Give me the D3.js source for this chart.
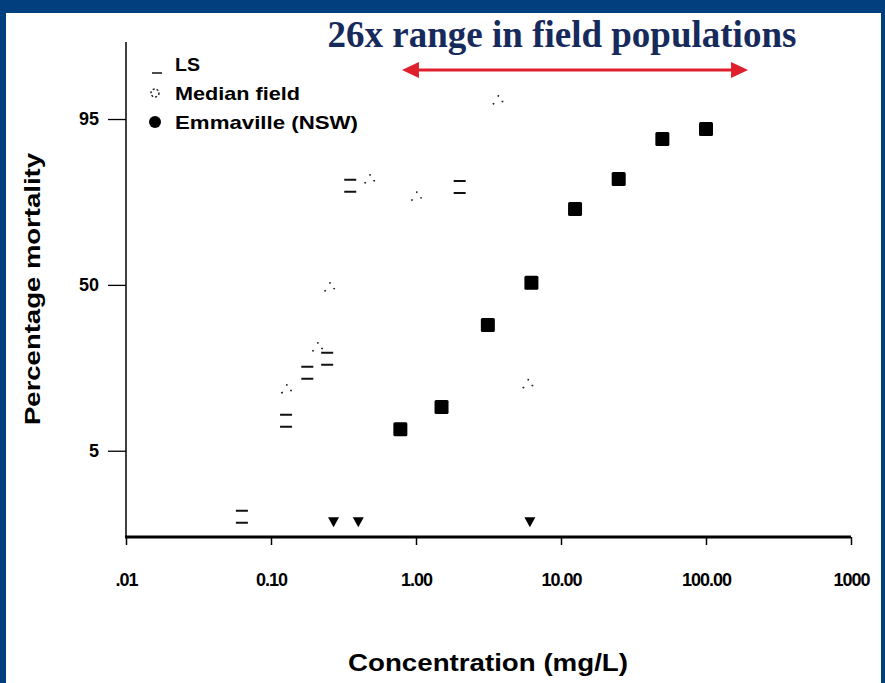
<!DOCTYPE html>
<html>

<head>
  <meta charset="utf-8" />
  <title>Percentage mortality</title>
  <style>
    body {
      margin: 0;
      background: #fff;
    }

    svg {
      display: block;
    }

    text {
      font-family: "Liberation Sans", Arial, sans-serif;
      fill: #000;
    }
  </style>
  <script src="https://cdnjs.cloudflare.com/ajax/libs/d3/7.8.5/d3.min.js"></script>
</head>

<body>
  <div id="chartArea"></div>
  <script>
    // axis ticks
    var xTicks = [0.01, 0.1, 1, 10, 100, 1000];
    var xTickLabels = ['.01', '0.10', '1.00', '10.00', '100.00', '1000'];
    var yTicks = [5, 50, 95];
    var yExtent = [0.62, 99.2]; // percent at bottom / top of the axis

    // Emmaville (NSW) - filled squares
    var emmConc = [0.78, 1.5, 3.13, 6.25, 12.5, 25, 50, 100];
    var emmMort = [7.6, 11.3, 34.5, 50.8, 77.4, 85.3, 92.6, 93.9];

    // LS - hollow squares (only partly printed)
    var lsConc = [0.352, 2.0, 0.178, 0.244, 0.127, 0.063];
    var lsMort = [83.7, 83.4, 19.2, 23.2, 8.9, 1.07];

    // Median field - dotted circles
    var medConc = [0.252, 0.476, 0.208, 0.127, 1.0, 3.65, 5.87];
    var medMort = [48.8, 85.1, 26.6, 14.9, 80.8, 96.6, 16.1];

    // LC50 markers sitting on the baseline
    var lc50Conc = [0.27, 0.40, 6.1];
    var baseMort = 0.94;

    // the red range arrow
    var arrowConc = [0.8, 195];

    var legendNames = ['LS', 'Median field', 'Emmaville (NSW)'];

    var W = 885, H = 683;
    var plotL = 126, plotR = 851, plotT = 42, plotB = 537;

    // probit transform (Abramowitz & Stegun 26.2.23)
    function probit(pct) {
      var p = pct / 100, s = p < 0.5 ? -1 : 1, q = p < 0.5 ? p : 1 - p;
      var t = Math.sqrt(-2 * Math.log(q));
      var z = t - (2.515517 + 0.802853 * t + 0.010328 * t * t) /
        (1 + 1.432788 * t + 0.189269 * t * t + 0.001308 * t * t * t);
      return s * z;
    }

    var xScale = d3.scaleLog()
      .domain([xTicks[0], xTicks[xTicks.length - 1]])
      .range([plotL, plotR]);

    var zScale = d3.scaleLinear()
      .domain(yExtent.map(d => probit(d)))
      .range([plotB, plotT]);
    var yScale = p => zScale(probit(p));

    var svg = d3.select('#chartArea').append('svg')
      .attr('width', W)
      .attr('height', H);

    // frame
    var frame = '#023f7e';
    svg.append('rect').attr('x', 0).attr('y', 0).attr('width', W).attr('height', 13).attr('fill', frame);
    svg.append('rect').attr('x', 0).attr('y', 0).attr('width', 6).attr('height', H).attr('fill', frame);
    svg.append('rect').attr('x', W - 4).attr('y', 0).attr('width', 4).attr('height', H).attr('fill', frame);

    // title
    svg.append('text')
      .attr('x', 562)
      .attr('y', 47)
      .attr('text-anchor', 'middle')
      .style('font-family', '"Liberation Serif", "Times New Roman", serif')
      .style('font-weight', 'bold')
      .style('font-size', '37px')
      .style('fill', '#162a5c')
      .text('26x range in field populations');

    // red double arrow
    var red = '#e01f2d';
    var ax1 = xScale(arrowConc[0]), ax2 = xScale(arrowConc[1]), ay = 70;
    svg.append('line')
      .attr('x1', ax1 + 10).attr('x2', ax2 - 10)
      .attr('y1', ay).attr('y2', ay)
      .attr('stroke', red).attr('stroke-width', 3);
    svg.append('path')
      .attr('d', `M${ax1},${ay} l17,-8 l0,16 z M${ax2},${ay} l-17,-8 l0,16 z`)
      .attr('fill', red);

    // x axis
    var xAxis = d3.axisBottom(xScale)
      .tickValues(xTicks)
      .tickFormat((d, i) => xTickLabels[i])
      .tickSize(8)
      .tickPadding(28);
    var gx = svg.append('g')
      .attr('transform', `translate(0,${plotB})`)
      .call(xAxis);
    gx.select('.domain').attr('stroke-width', 3).attr('d', `M${plotL - 1},0H${plotR}`);
    gx.selectAll('.tick line').attr('stroke-width', 1.5);
    gx.selectAll('.tick text')
      .style('font-size', '18px')
      .style('font-weight', 'bold')
      .style('letter-spacing', '-1px')
      .attr('fill', '#000');

    // y axis
    var yAxis = d3.axisLeft(zScale)
      .tickValues(yTicks.map(d => probit(d)))
      .tickFormat((d, i) => yTicks[i])
      .tickSize(18)
      .tickPadding(9);
    var gy = svg.append('g')
      .attr('transform', `translate(${plotL},0)`)
      .call(yAxis);
    gy.select('.domain').attr('stroke-width', 1.5).attr('d', `M0,${plotT}V${plotB}`);
    gy.selectAll('.tick line').attr('stroke-width', 1.3);
    gy.selectAll('.tick text')
      .style('font-size', '18px')
      .style('font-weight', 'bold')
      .attr('fill', '#000');

    // axis titles
    svg.append('text')
      .attr('x', 488)
      .attr('y', 671)
      .attr('text-anchor', 'middle')
      .attr('textLength', 280)
      .attr('lengthAdjust', 'spacingAndGlyphs')
      .style('font-size', '24px')
      .style('font-weight', 'bold')
      .text('Concentration (mg/L)');

    svg.append('text')
      .attr('transform', 'translate(40,289) rotate(-90)')
      .attr('text-anchor', 'middle')
      .attr('textLength', 272)
      .attr('lengthAdjust', 'spacingAndGlyphs')
      .style('font-size', '22px')
      .style('font-weight', 'bold')
      .text('Percentage mortality');

    // LS: hollow squares, only top and bottom edges came through
    var s = 12;
    svg.selectAll('rect.ls')
      .data(d3.zip(lsConc, lsMort))
      .enter()
      .append('rect')
      .attr('class', 'ls')
      .attr('x', d => xScale(d[0]) - s / 2)
      .attr('y', d => yScale(d[1]) - s / 2)
      .attr('width', s)
      .attr('height', s)
      .attr('fill', 'none')
      .attr('stroke', '#111')
      .attr('stroke-width', 2)
      .attr('stroke-dasharray', `${s},${s}`);

    // Median field: faint dotted circles
    svg.selectAll('circle.med')
      .data(d3.zip(medConc, medMort))
      .enter()
      .append('circle')
      .attr('class', 'med')
      .attr('cx', d => xScale(d[0]))
      .attr('cy', d => yScale(d[1]))
      .attr('r', 5)
      .attr('fill', 'none')
      .attr('stroke', '#222')
      .attr('stroke-width', 1.8)
      .attr('stroke-dasharray', '1.5,10');

    // Emmaville: filled squares
    var sq = 14;
    svg.selectAll('rect.emm')
      .data(d3.zip(emmConc, emmMort))
      .enter()
      .append('rect')
      .attr('class', 'emm')
      .attr('x', d => xScale(d[0]) - sq / 2)
      .attr('y', d => yScale(d[1]) - sq / 2)
      .attr('width', sq)
      .attr('height', sq)
      .attr('rx', 1.5)
      .attr('fill', '#000');

    // LC50 triangles
    svg.selectAll('path.lc50')
      .data(lc50Conc)
      .enter()
      .append('path')
      .attr('class', 'lc50')
      .attr('transform', d => `translate(${xScale(d)},${yScale(baseMort)})`)
      .attr('d', 'M-5.5,-4.5 L5.5,-4.5 L0,5.5 Z')
      .attr('fill', '#000');

    // legend
    var leg = svg.append('g');
    var legY = [64, 93, 122];
    leg.selectAll('text')
      .data(legendNames)
      .enter()
      .append('text')
      .attr('x', 175)
      .attr('y', (d, i) => legY[i] + 7)
      .attr('textLength', (d, i) => [25, 125, 183][i])
      .attr('lengthAdjust', 'spacingAndGlyphs')
      .style('font-size', '19px')
      .style('font-weight', 'bold')
      .text(d => d);
    leg.append('rect')
      .attr('x', 152).attr('y', legY[0] - 1)
      .attr('width', 10).attr('height', 10)
      .attr('fill', 'none').attr('stroke', '#111').attr('stroke-width', 1.5)
      .attr('stroke-dasharray', '0,20,10,10');
    leg.append('circle')
      .attr('cx', 155).attr('cy', legY[1])
      .attr('r', 4)
      .attr('fill', 'none').attr('stroke', '#222').attr('stroke-width', 1.5)
      .attr('stroke-dasharray', '2,2');
    leg.append('circle')
      .attr('cx', 155).attr('cy', legY[2])
      .attr('r', 6)
      .attr('fill', '#000');
  </script>
</body>

</html>
